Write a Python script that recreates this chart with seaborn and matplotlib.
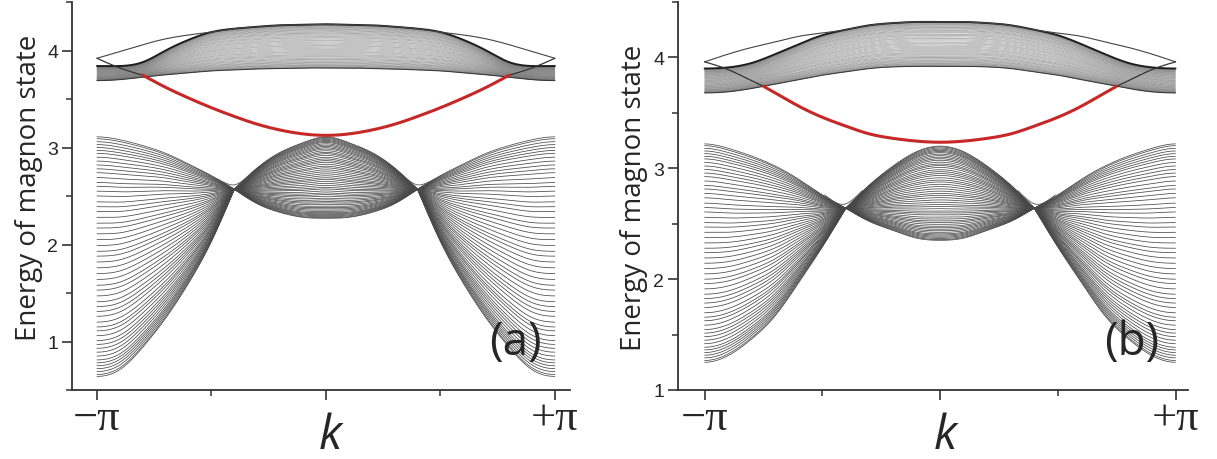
import numpy as np
import pandas as pd
import matplotlib
matplotlib.use('Agg')
import matplotlib.pyplot as plt
import seaborn as sns
from matplotlib.ticker import MultipleLocator

# wave vector sample points, in units of pi (curves are symmetric in k)
k_half = [-1.0, -0.9, -0.8, -0.7, -0.6, -0.5, -0.4, -0.3, -0.2, -0.1, 0.0]

# energies of the lower bulk lines at k = -pi, panel (a)
levels_a = [0.64, 0.66, 0.69, 0.72, 0.75, 0.78, 0.81, 0.85, 0.89, 0.93, 0.97,
            1.01, 1.06, 1.11, 1.15, 1.20, 1.26, 1.31, 1.36, 1.41, 1.47, 1.53,
            1.58, 1.64, 1.70, 1.76, 1.82, 1.88, 1.93, 1.99, 2.05, 2.11, 2.17,
            2.22, 2.28, 2.34, 2.39, 2.44, 2.50, 2.55, 2.60, 2.64, 2.69, 2.74,
            2.78, 2.82, 2.86, 2.90, 2.94, 2.97, 3.00, 3.03, 3.06, 3.09, 3.11]

# panel (a)
a_low_p = [0.64, 0.71, 0.94, 1.24, 1.60, 2.03, 2.57, 2.79, 2.95, 3.05, 3.11]
a_low_q = [3.11, 3.08, 3.02, 2.94, 2.83, 2.71, 2.57, 2.42, 2.33, 2.28, 2.27]
a_up_lo = [3.69, 3.70, 3.725, 3.75, 3.77, 3.79, 3.80, 3.81, 3.815, 3.82, 3.82]
a_up_hi = [3.84, 3.84, 3.88, 4.00, 4.11, 4.19, 4.225, 4.245, 4.26, 4.265, 4.27]
a_thin = [3.92, 3.99, 4.06, 4.12, 4.16, 4.19, 4.225, 4.245, 4.26, 4.265, 4.27]
a_red_k = [-0.8, -0.7, -0.6, -0.5, -0.4, -0.3, -0.2, -0.1, 0.0]
a_red = [3.745, 3.62, 3.51, 3.41, 3.32, 3.24, 3.18, 3.14, 3.125]
a_edge_k = [-1.0, -0.9, -0.8]
a_edge = [3.92, 3.82, 3.745]
a_gap_k = [-0.48, -0.44, -0.40, -0.36, -0.32]
a_gap = [2.68, 2.635, 2.615, 2.665, 2.74]

# panel (b)
b_low_p = [1.25, 1.31, 1.46, 1.67, 1.97, 2.29, 2.64, 2.85, 3.02, 3.15, 3.20]
b_low_q = [3.22, 3.18, 3.11, 3.02, 2.90, 2.76, 2.64, 2.52, 2.44, 2.37, 2.35]
b_up_lo = [3.68, 3.69, 3.72, 3.76, 3.80, 3.84, 3.87, 3.90, 3.915, 3.92, 3.92]
b_up_hi = [3.90, 3.91, 3.95, 4.03, 4.12, 4.20, 4.25, 4.29, 4.31, 4.32, 4.32]
b_thin = [3.96, 4.03, 4.09, 4.14, 4.19, 4.22, 4.25, 4.29, 4.31, 4.32, 4.32]
b_red_k = [-0.75, -0.7, -0.6, -0.5, -0.4, -0.3, -0.2, -0.1, 0.0]
b_red = [3.74, 3.68, 3.56, 3.46, 3.38, 3.31, 3.27, 3.245, 3.235]
b_edge_k = [-1.0, -0.9, -0.8, -0.75]
b_edge = [3.96, 3.89, 3.79, 3.74]
b_gap_k = [-0.49, -0.45, -0.41, -0.37, -0.33]
b_gap = [2.76, 2.70, 2.675, 2.72, 2.80]

kd = np.linspace(-1, 1, 801)
frac = (np.array(levels_a) - levels_a[0]) / (levels_a[-1] - levels_a[0])


def spline(x, y, xs):
    # natural cubic spline through the read points
    x = np.asarray(x, float)
    y = np.asarray(y, float)
    n = len(x)
    h = np.diff(x)
    A = np.zeros((n, n))
    r = np.zeros(n)
    A[0, 0] = A[-1, -1] = 1
    for i in range(1, n - 1):
        A[i, i - 1] = h[i - 1]
        A[i, i] = 2 * (h[i - 1] + h[i])
        A[i, i + 1] = h[i]
        r[i] = 3 * ((y[i + 1] - y[i]) / h[i] - (y[i] - y[i - 1]) / h[i - 1])
    c = np.linalg.solve(A, r)
    b = (y[1:] - y[:-1]) / h - h * (2 * c[:-1] + c[1:]) / 3
    d = (c[1:] - c[:-1]) / (3 * h)
    j = np.clip(np.searchsorted(x, xs) - 1, 0, n - 2)
    t = xs - x[j]
    return y[j] + b[j] * t + c[j] * t ** 2 + d[j] * t ** 3


def mirror(ks, vs):
    ks = np.asarray(ks, float)
    vs = np.asarray(vs, float)
    return np.concatenate([ks, -ks[-2::-1]]), np.concatenate([vs, vs[-2::-1]])


def full_curve(vals, kink=None, periodic=True):
    kk = np.array(k_half)
    vv = np.array(vals, float)
    if kink is None:
        kf, vf = mirror(kk, vv)
        if periodic:
            kf = np.concatenate([[-1.2, -1.1], kf, [1.1, 1.2]])
            vf = np.concatenate([[vv[2], vv[1]], vf, [vv[1], vv[2]]])
        return spline(kf, vf, kd)
    out = np.empty_like(kd)
    m = kk <= kink + 1e-9
    ko = np.concatenate([[-1.2, -1.1], kk[m]])
    vo = np.concatenate([[vv[2], vv[1]], vv[m]])
    left = kd <= kink
    right = kd >= -kink
    out[left] = spline(ko, vo, kd[left])
    out[right] = spline(-ko[::-1], vo[::-1], kd[right])
    mi = kk >= kink - 1e-9
    ki, vi = mirror(kk[mi], vv[mi])
    mid = ~left & ~right
    out[mid] = spline(ki, vi, kd[mid])
    return out


def fan(lo, hi, kink, name):
    P = full_curve(lo, kink)
    Q = full_curve(hi, kink)
    E = P[None, :] + (Q - P)[None, :] * frac[:, None]
    return pd.DataFrame({
        'k': np.tile(kd, len(frac)),
        'E': E.ravel(),
        'line': np.repeat([f'{name}{i}' for i in range(len(frac))], len(kd)),
    })


def side_pair(ks, vs, name):
    # a short curve on the left and its mirror on the right
    ks = np.asarray(ks, float)
    kl = np.linspace(ks[0], ks[-1], 60)
    el = spline(ks, vs, kl)
    return pd.DataFrame({
        'k': np.concatenate([kl, -kl[::-1]]),
        'E': np.concatenate([el, el[::-1]]),
        'line': [name + 'L'] * 60 + [name + 'R'] * 60,
    })


def red_curve(ks, vs):
    kf, vf = mirror(ks, vs)
    kr = np.linspace(kf[0], kf[-1], 400)
    return pd.DataFrame({'k': kr, 'E': spline(kf, vf, kr)})


sns.set_style('ticks')
plt.rcParams['font.family'] = ['Liberation Sans', 'DejaVu Sans']

fig = plt.figure(figsize=(12.17, 4.6), dpi=100)
W, H = 1217, 460
ax_a = fig.add_axes([72 / W, 1 - 391 / H, 498 / W, 388 / H])
ax_b = fig.add_axes([678 / W, 1 - 391 / H, 510 / W, 388 / H])

panels = [
    (ax_a, a_low_p, a_low_q, a_up_lo, a_up_hi, a_thin, a_red_k, a_red,
     a_edge_k, a_edge, a_gap_k, a_gap, (0.5, 4.5), (-1.109, 1.066), '(a)', 0.523),
    (ax_b, b_low_p, b_low_q, b_up_lo, b_up_hi, b_thin, b_red_k, b_red,
     b_edge_k, b_edge, b_gap_k, b_gap, (1.0, 4.5), (-1.113, 1.053), '(b)', 0.497),
]

for (ax, lp, lq, ulo, uhi, thin, rk, rv, ek, ev, gk, gv,
     ylim, xlim, tag, ylab_y) in panels:
    low = fan(lp, lq, -0.4, 'low')
    up = fan(ulo, uhi, None, 'up')
    sns.lineplot(data=low, x='k', y='E', units='line', estimator=None, sort=False,
                 color='#484848', lw=0.55, ax=ax, legend=False)
    sns.lineplot(data=up, x='k', y='E', units='line', estimator=None, sort=False,
                 color='#707070', lw=0.3, ax=ax, legend=False)
    # darker edges of the upper band
    sns.lineplot(x=kd, y=full_curve(uhi), color='#1e1e1e', lw=1.4, ax=ax, sort=False)
    sns.lineplot(x=kd, y=full_curve(ulo), color='#3a3a3a', lw=0.8, ax=ax, sort=False)
    sns.lineplot(x=kd, y=full_curve(thin, periodic=False), color='#444444', lw=0.8,
                 ax=ax, sort=False)
    sns.lineplot(data=side_pair(ek, ev, 'edge'), x='k', y='E', units='line',
                 estimator=None, sort=False, color='#333333', lw=0.9, ax=ax, legend=False)
    sns.lineplot(data=side_pair(gk, gv, 'gap'), x='k', y='E', units='line',
                 estimator=None, sort=False, color='#555555', lw=0.6, ax=ax, legend=False)
    sns.lineplot(data=red_curve(rk, rv), x='k', y='E', color='#c62828', lw=2.2,
                 ax=ax, sort=False, zorder=5)

    ax.set_xlim(*xlim)
    ax.set_ylim(*ylim)
    sns.despine(ax=ax)
    for s in ['left', 'bottom']:
        ax.spines[s].set_linewidth(1.3)
        ax.spines[s].set_color('#333333')
    ax.set_xticks([-1, 0, 1], labels=['', '', ''])
    ax.xaxis.set_minor_locator(MultipleLocator(0.5))
    ax.yaxis.set_major_locator(MultipleLocator(1))
    ax.yaxis.set_minor_locator(MultipleLocator(0.5))
    ax.tick_params(which='major', direction='out', length=7, width=1.2,
                   color='#333333', labelsize=14, pad=3)
    ax.tick_params(which='minor', direction='out', length=4, width=1.1, color='#333333')
    ax.set_xlabel('')
    ax.set_ylabel('Energy of magnon state', fontsize=20, family='Open Sans')
    ax.yaxis.set_label_coords(-0.058, ylab_y)

    tr = ax.get_xaxis_transform()
    ax.text(-1, -0.100, '\u2212\u03c0', transform=tr, ha='center', va='baseline',
            fontsize=32, family='Liberation Serif')
    ax.text(1, -0.100, '+\u03c0', transform=tr, ha='center', va='baseline',
            fontsize=32, family='Liberation Serif')
    ax.text(0.02, -0.150, 'k', transform=tr, ha='center', va='baseline',
            fontsize=34, family='Open Sans', style='italic')
    ax.text(0.89, 0.124, tag, transform=ax.transAxes, ha='center', va='center',
            fontsize=33, family='Open Sans')

fig.savefig('out.png', dpi=100)
